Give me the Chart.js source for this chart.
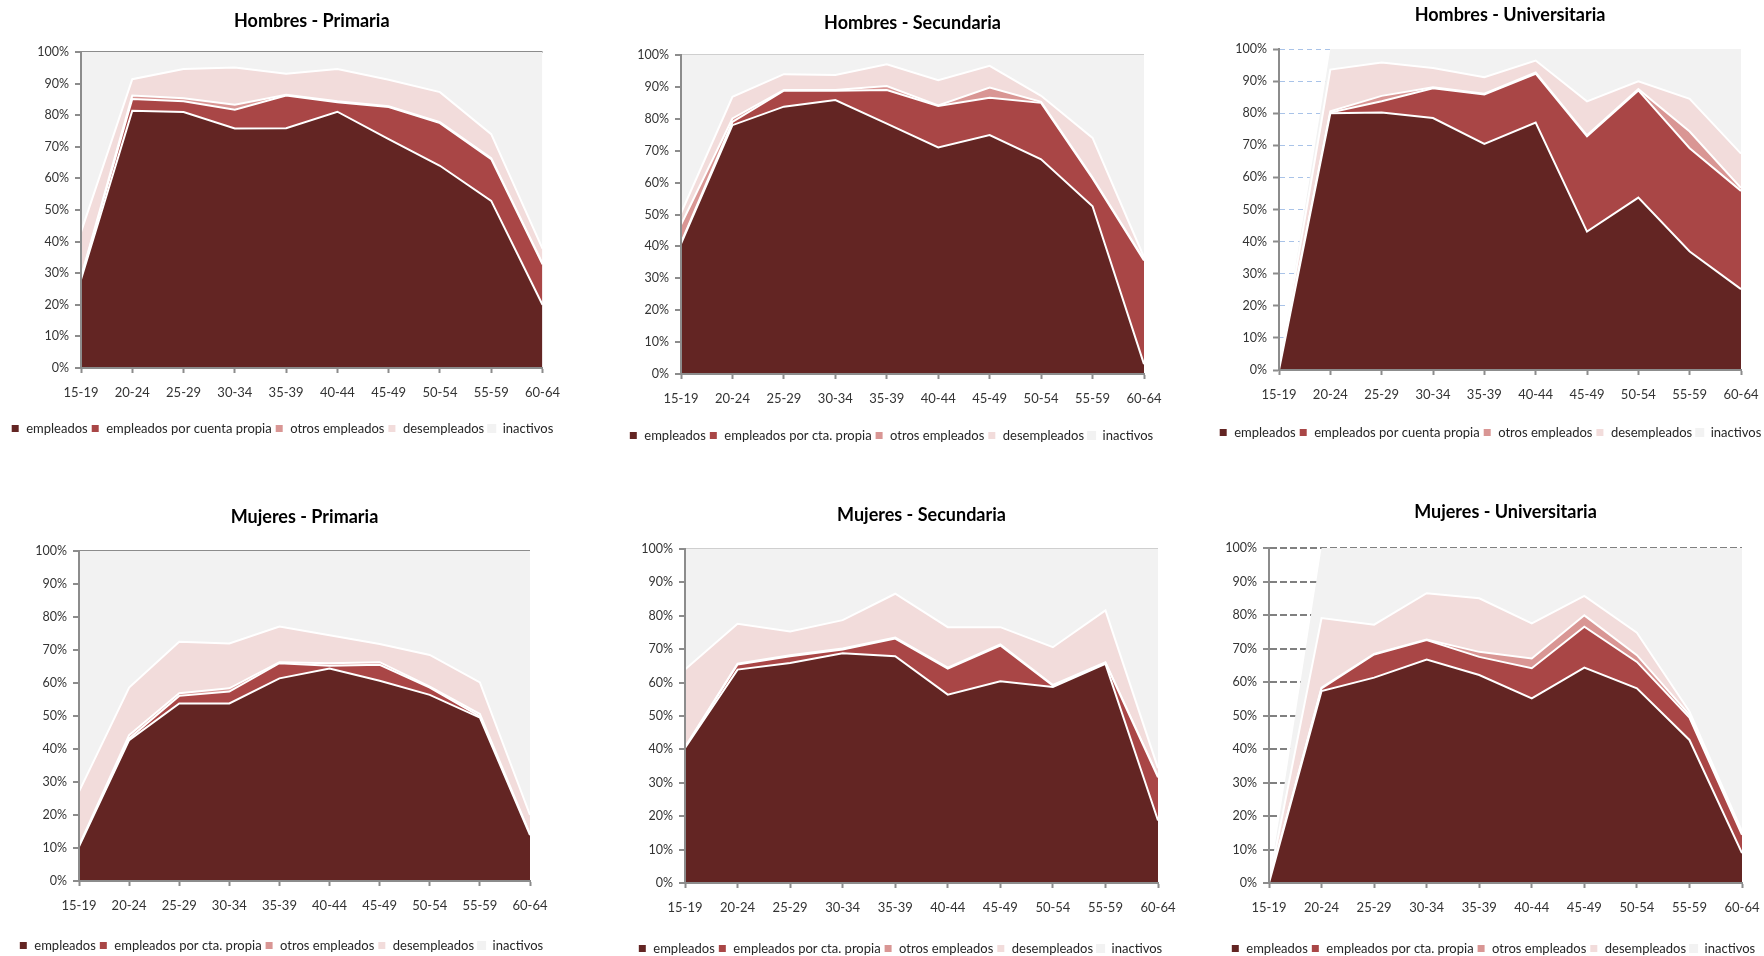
<!DOCTYPE html>
<html>
<head>
<meta charset="utf-8">
<script src="https://cdn.jsdelivr.net/npm/chart.js@4.4.1/dist/chart.umd.min.js"></script>
<style>
  html, body { margin: 0; padding: 0; background: #ffffff; }
  body { position: relative; width: 1764px; height: 956px; overflow: hidden; }
  canvas { position: absolute; }
</style>
</head>
<body>
<script>
// Grupos de edad (eje X)
const edades = ['15-19', '20-24', '25-29', '30-34', '35-39', '40-44', '45-49', '50-54', '55-59', '60-64'];
const ticksY = [0, 10, 20, 30, 40, 50, 60, 70, 80, 90, 100];

// Nombres de las series
const seriesLargas = ['empleados', 'empleados por cuenta propia', 'otros empleados', 'desempleados', 'inactivos'];
const seriesCortas = ['empleados', 'empleados por cta. propia', 'otros empleados', 'desempleados', 'inactivos'];

// Hombres - Primaria (% de la población)
const hpEmp    = [28.0, 81.4, 81.0, 75.8, 75.9, 81.1, 72.4, 64.0, 52.9, 20.0];
const hpCta    = [0.5, 3.7, 3.4, 5.9, 10.3, 3.0, 10.2, 13.5, 13.2, 12.8];
const hpOtros  = [0.3, 1.1, 1.0, 1.6, 0.3, 0.3, 0.2, 0.3, 0.3, 0.3];
const hpDes    = [14.2, 5.2, 9.2, 11.8, 6.6, 10.2, 8.4, 9.5, 7.6, 4.7];
const hpInact  = [57.0, 8.6, 5.4, 4.9, 6.9, 5.4, 8.8, 12.7, 26.0, 62.2];

// Hombres - Secundaria
const hsEmp    = [40.8, 78.0, 83.8, 85.9, 78.5, 71.0, 74.9, 67.3, 52.6, 3.1];
const hsCta    = [0.3, 1.0, 5.0, 2.9, 10.5, 13.0, 11.7, 17.7, 8.7, 32.5];
const hsOtros  = [5.7, 1.1, 0.2, 0.2, 1.3, 0.2, 3.2, 0.3, 0.3, 0.2];
const hsDes    = [3.6, 6.8, 5.0, 4.7, 6.8, 7.9, 6.8, 1.9, 12.4, 0.8];
const hsInact  = [49.6, 13.1, 6.0, 6.3, 2.9, 7.9, 3.4, 12.8, 26.0, 63.4];

// Hombres - Universitaria
const huEmp    = [0, 80.0, 80.2, 78.5, 70.4, 77.1, 43.1, 53.7, 36.9, 25.2];
const huCta    = [0, 0.2, 3.5, 9.3, 15.4, 15.2, 29.7, 33.4, 32.2, 30.6];
const huOtros  = [0, 0.4, 1.7, 0.3, 0.3, 0.4, 0.3, 0.4, 5.2, 0.9];
const huDes    = [0, 13.0, 10.4, 6.0, 5.1, 3.7, 10.6, 2.4, 10.2, 10.7];
const huInact  = [0, 6.4, 4.2, 5.9, 8.8, 3.6, 16.3, 10.1, 15.5, 32.6];

// Mujeres - Primaria
const mpEmp    = [10.4, 42.7, 53.8, 53.8, 61.4, 64.4, 60.7, 56.4, 49.5, 13.9];
const mpCta    = [0.1, 0.5, 2.3, 3.6, 4.6, 0.8, 4.8, 2.2, 0.4, 0.1];
const mpOtros  = [0.2, 1.0, 0.8, 1.0, 0.3, 0.8, 0.8, 0.3, 0.7, 0.2];
const mpDes    = [16.4, 14.4, 15.6, 13.6, 10.8, 8.5, 5.5, 9.6, 9.6, 5.8];
const mpInact  = [72.9, 41.4, 27.5, 28.0, 22.9, 25.5, 28.2, 31.5, 39.8, 80.0];

// Mujeres - Secundaria
const msEmp    = [40.4, 63.9, 65.9, 68.8, 67.9, 56.4, 60.4, 58.7, 65.6, 18.7];
const msCta    = [0.1, 1.5, 2.0, 1.1, 5.3, 7.8, 10.7, 0.4, 0.3, 12.9];
const msOtros  = [0.2, 0.3, 0.3, 0.3, 0.3, 0.3, 0.3, 0.2, 0.2, 0.3];
const msDes    = [23.2, 11.9, 7.1, 8.5, 13.1, 12.1, 5.2, 11.3, 15.5, 2.5];
const msInact  = [36.1, 22.4, 24.7, 21.3, 13.4, 23.4, 23.4, 29.4, 18.4, 65.6];

// Mujeres - Universitaria
const muEmp    = [0, 57.3, 61.3, 66.7, 62.1, 55.1, 64.3, 58.1, 42.7, 8.9];
const muCta    = [0, 0.8, 6.9, 5.8, 5.4, 9.0, 12.2, 7.9, 6.7, 5.5];
const muOtros  = [0, 0.2, 0.2, 0.2, 1.5, 2.9, 3.4, 2.0, 0.8, 0.2];
const muDes    = [0, 20.8, 8.7, 13.8, 16.0, 10.5, 5.8, 6.7, 1.0, 0.8];
const muInact  = [0, 20.9, 22.9, 13.5, 15.0, 22.5, 14.3, 25.3, 48.8, 84.6];

// Colores de las áreas apiladas (de abajo hacia arriba)
const colores = ['#632523', '#A94646', '#D99694', '#F2DCDB', '#F2F2F2'];
const FUENTE = "Lato, 'Open Sans', 'DejaVu Sans', sans-serif";

// Paneles: textos, series y ubicación del área de trazado en la página
const paneles = [
  { titulo: 'Hombres - Primaria', nombres: seriesLargas, datos: [hpEmp, hpCta, hpOtros, hpDes, hpInact], rejilla: 'lineaOscura',
    caja: { L: 81, R: 548, T: 52, B: 368, tituloY: 21, leyendaY: 428, leyendaX: 282 } },
  { titulo: 'Hombres - Secundaria', nombres: seriesCortas, datos: [hsEmp, hsCta, hsOtros, hsDes, hsInact], rejilla: 'lineaClara',
    caja: { L: 681, R: 1144, T: 55, B: 374, tituloY: 23, leyendaY: 435, leyendaX: 891 } },
  { titulo: 'Hombres - Universitaria', nombres: seriesLargas, datos: [huEmp, huCta, huOtros, huDes, huInact], rejilla: 'guionAzul',
    caja: { L: 1279, R: 1741, T: 49, B: 370, tituloY: 15, leyendaY: 432, leyendaX: 1490 } },
  { titulo: 'Mujeres - Primaria', nombres: seriesCortas, datos: [mpEmp, mpCta, mpOtros, mpDes, mpInact], rejilla: 'lineaOscura',
    caja: { L: 79, R: 530, T: 551, B: 881, tituloY: 517, leyendaY: 945, leyendaX: 281 } },
  { titulo: 'Mujeres - Secundaria', nombres: seriesCortas, datos: [msEmp, msCta, msOtros, msDes, msInact], rejilla: 'lineaClara',
    caja: { L: 685, R: 1158, T: 549, B: 883, tituloY: 515, leyendaY: 948, leyendaX: 900 } },
  { titulo: 'Mujeres - Universitaria', nombres: seriesCortas, datos: [muEmp, muCta, muOtros, muDes, muInact], rejilla: 'guionGris',
    caja: { L: 1269, R: 1742, T: 548, B: 883, tituloY: 512, leyendaY: 948, leyendaX: 1493 } }
];

const ANCHO = 580;           // ancho de cada lienzo
const TIT_SIZE = 18, TIT_PAD = 4;
const LEY_SIZE = 13, LEY_PAD = 3, LEY_BOX = 9;
const GRIS_EJE = '#8C8C8C';

// Líneas horizontales de la rejilla del eje Y según el estilo de cada panel
function estiloRejilla(tipo) {
  const base = { drawTicks: true, tickLength: 6, tickColor: GRIS_EJE, tickWidth: 2, tickBorderDash: [] };
  if (tipo === 'lineaOscura' || tipo === 'lineaClara') {
    const c = tipo === 'lineaOscura' ? GRIS_EJE : '#CFCFCF';
    return Object.assign(base, {
      color: (ctx) => (ctx.tick && ctx.tick.value === 100) ? c : 'rgba(0,0,0,0)',
      lineWidth: 2
    });
  }
  if (tipo === 'guionAzul') {
    return Object.assign(base, { color: '#A9C3E8', lineWidth: 1 });
  }
  return Object.assign(base, { color: '#808080', lineWidth: 2 });
}

function guiones(tipo) {
  if (tipo === 'guionAzul') return [5, 4];
  if (tipo === 'guionGris') return [7, 3];
  return [];
}

paneles.forEach((p) => {
  const c = p.caja;
  const x0 = Math.round(c.leyendaX - ANCHO / 2);
  const y0 = Math.round(c.tituloY - TIT_SIZE * 0.6 - TIT_PAD);
  const leyTop = Math.round(c.leyendaY - LEY_PAD - LEY_SIZE / 2);
  const leyAlto = LEY_SIZE + LEY_PAD + 10;
  const y1 = leyTop + leyAlto;
  const alto = y1 - y0;
  // margen bajo el título para que el área de trazado empiece justo en c.T
  const margenTitulo = c.T - y0 - TIT_PAD - TIT_SIZE * 1.2;

  const cv = document.createElement('canvas');
  cv.width = ANCHO; cv.height = alto;
  cv.style.left = x0 + 'px'; cv.style.top = y0 + 'px';
  cv.style.width = ANCHO + 'px'; cv.style.height = alto + 'px';
  document.body.appendChild(cv);

  const datasets = p.datos.map((serie, i) => ({
    label: p.nombres[i],
    data: serie,
    backgroundColor: colores[i],
    borderColor: '#FFFFFF',
    borderWidth: i < 4 ? 2 : 0,
    fill: i === 0 ? 'origin' : '-1',
    pointRadius: 0,
    pointHoverRadius: 0,
    tension: 0,
    order: i
  }));

  new Chart(cv, {
    type: 'line',
    data: { labels: edades, datasets },
    options: {
      responsive: false,
      animation: false,
      devicePixelRatio: 1,
      layout: { padding: 0 },
      plugins: {
        title: {
          display: true,
          text: p.titulo,
          fullSize: false,
          color: '#000000',
          font: { family: FUENTE, size: TIT_SIZE, weight: 'bold', lineHeight: 1.2 },
          padding: { top: TIT_PAD, bottom: margenTitulo }
        },
        legend: {
          position: 'bottom',
          labels: {
            boxWidth: LEY_BOX, boxHeight: LEY_BOX, padding: LEY_PAD,
            color: '#262626',
            font: { family: FUENTE, size: LEY_SIZE }
          }
        },
        tooltip: { enabled: false }
      },
      scales: {
        x: {
          offset: false,
          grid: { drawOnChartArea: false, drawTicks: true, tickLength: 5, tickColor: GRIS_EJE, tickWidth: 2 },
          border: { display: true, color: GRIS_EJE, width: 2, z: 1 },
          ticks: { color: '#333333', font: { family: FUENTE, size: 13 }, padding: 12, maxRotation: 0, autoSkip: false },
          afterFit: (s) => { s.height = leyTop - c.B; }
        },
        y: {
          stacked: true,
          min: 0, max: 100,
          afterBuildTicks: (s) => { s.ticks = ticksY.map((v) => ({ value: v })); },
          grid: estiloRejilla(p.rejilla),
          border: { display: true, color: GRIS_EJE, width: 2, z: 1, dash: guiones(p.rejilla) },
          ticks: { color: '#333333', font: { family: FUENTE, size: 12.5 }, padding: 6, callback: (v) => v + '%' },
          afterFit: (s) => { s.width = c.L - x0; }
        },
        margenDerecho: {
          type: 'linear',
          position: 'right',
          display: true,
          grid: { display: false, drawTicks: false },
          border: { display: false },
          ticks: { display: false },
          afterFit: (s) => { s.width = x0 + ANCHO - c.R; }
        }
      }
    }
  });
});
</script>
</body>
</html>
